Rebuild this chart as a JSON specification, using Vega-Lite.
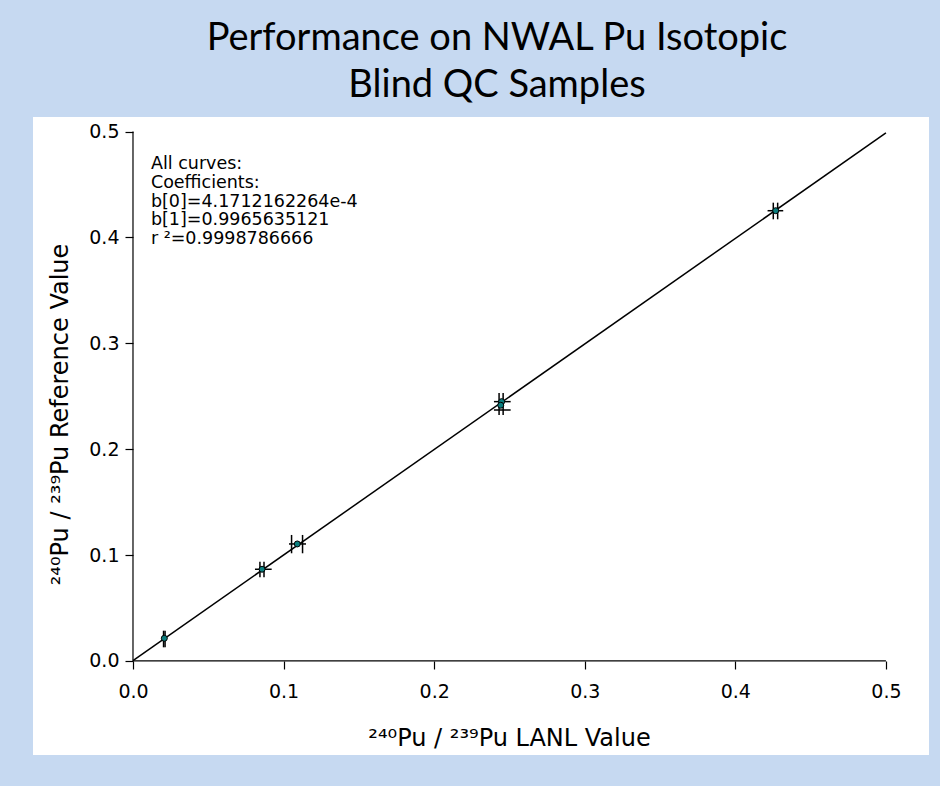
{
  "$schema": "https://vega.github.io/schema/vega-lite/v6.json",
  "autosize": {"type": "none"},
  "width": 896,
  "height": 638,
  "padding": {"left": 33, "top": 117, "right": 11, "bottom": 31},
  "background": "#c6d9f1",
  "title": {
    "text": ["Performance on NWAL Pu Isotopic", "Blind QC Samples"],
    "font": "Lato",
    "fontSize": 38,
    "fontWeight": "normal",
    "color": "black",
    "lineHeight": 47,
    "anchor": "middle",
    "frame": "group",
    "offset": 12,
    "dx": 16
  },
  "config": {
    "view": {"fill": "white", "stroke": null},
    "axis": {
      "grid": false,
      "domain": false,
      "ticks": true,
      "tickColor": "black",
      "tickWidth": 1.2,
      "tickSize": 8,
      "labelColor": "black",
      "labelFont": "DejaVu Sans",
      "labelFontSize": 19,
      "titleColor": "black",
      "titleFont": "DejaVu Sans",
      "titleFontSize": 24,
      "titleFontWeight": "normal"
    }
  },
  "datasets": {
    "markers": [
      {"lanl": 0.0208, "ref": 0.0214},
      {"lanl": 0.0857, "ref": 0.0866},
      {"lanl": 0.1091, "ref": 0.1105},
      {"lanl": 0.2448, "ref": 0.2449},
      {"lanl": 0.2442, "ref": 0.2415},
      {"lanl": 0.4268, "ref": 0.4252}
    ],
    "refErrors": [
      {"lanl": 0.0203, "lo": 0.0129, "hi": 0.0286},
      {"lanl": 0.0213, "lo": 0.0129, "hi": 0.0286},
      {"lanl": 0.0843, "lo": 0.0790, "hi": 0.0938},
      {"lanl": 0.0870, "lo": 0.0790, "hi": 0.0938},
      {"lanl": 0.1053, "lo": 0.1017, "hi": 0.1190},
      {"lanl": 0.1126, "lo": 0.1017, "hi": 0.1190},
      {"lanl": 0.2431, "lo": 0.2323, "hi": 0.2531},
      {"lanl": 0.2458, "lo": 0.2323, "hi": 0.2531},
      {"lanl": 0.4252, "lo": 0.4171, "hi": 0.4328},
      {"lanl": 0.4281, "lo": 0.4171, "hi": 0.4328}
    ],
    "lanlErrors": [
      {"ref": 0.0866, "lo": 0.0810, "hi": 0.0921},
      {"ref": 0.1105, "lo": 0.1036, "hi": 0.1149},
      {"ref": 0.2449, "lo": 0.2397, "hi": 0.2508},
      {"ref": 0.2370, "lo": 0.2397, "hi": 0.2508},
      {"ref": 0.4252, "lo": 0.4214, "hi": 0.4318}
    ]
  },
  "layer": [
    {
      "data": {"values": [{}]},
      "mark": {"type": "rule", "color": "black", "strokeWidth": 1.2},
      "encoding": {
        "x": {"datum": 0, "type": "quantitative", "scale": {"domain": [-0.0664, 0.5286], "nice": false, "zero": false},
          "axis": {"orient": "bottom", "offset": -94, "values": [0, 0.1, 0.2, 0.3, 0.4, 0.5], "format": ".1f", "labelPadding": 13, "title": "²⁴⁰Pu / ²³⁹Pu LANL Value", "titlePadding": 25, "titleX": 476}},
        "x2": {"datum": 0.5},
        "y": {"datum": 0, "type": "quantitative", "scale": {"domain": [-0.0888, 0.5137], "nice": false, "zero": false},
          "axis": {"orient": "left", "offset": -100, "values": [0, 0.1, 0.2, 0.3, 0.4, 0.5], "format": ".1f", "labelPadding": 6, "title": "²⁴⁰Pu / ²³⁹Pu Reference Value", "titlePadding": 16, "titleY": 297}}
      }
    },
    {
      "data": {"values": [{}]},
      "mark": {"type": "rule", "color": "black", "strokeWidth": 1.2},
      "encoding": {
        "x": {"datum": 0, "type": "quantitative", "scale": {"domain": [-0.0664, 0.5286], "nice": false, "zero": false},
          "axis": {"orient": "bottom", "offset": -94, "values": [0, 0.1, 0.2, 0.3, 0.4, 0.5], "format": ".1f", "labelPadding": 13, "title": "²⁴⁰Pu / ²³⁹Pu LANL Value", "titlePadding": 25, "titleX": 476}},
        "y": {"datum": 0, "type": "quantitative", "scale": {"domain": [-0.0888, 0.5137], "nice": false, "zero": false},
          "axis": {"orient": "left", "offset": -100, "values": [0, 0.1, 0.2, 0.3, 0.4, 0.5], "format": ".1f", "labelPadding": 6, "title": "²⁴⁰Pu / ²³⁹Pu Reference Value", "titlePadding": 16, "titleY": 297}},
        "y2": {"datum": 0.5}
      }
    },
    {
      "data": {"values": [{}]},
      "mark": {"type": "rule", "color": "black", "strokeWidth": 1.5},
      "encoding": {
        "x": {"datum": 0, "type": "quantitative", "scale": {"domain": [-0.0664, 0.5286], "nice": false, "zero": false},
          "axis": {"orient": "bottom", "offset": -94, "values": [0, 0.1, 0.2, 0.3, 0.4, 0.5], "format": ".1f", "labelPadding": 13, "title": "²⁴⁰Pu / ²³⁹Pu LANL Value", "titlePadding": 25, "titleX": 476}},
        "x2": {"datum": 0.5},
        "y": {"datum": 0.00041712162264, "type": "quantitative", "scale": {"domain": [-0.0888, 0.5137], "nice": false, "zero": false},
          "axis": {"orient": "left", "offset": -100, "values": [0, 0.1, 0.2, 0.3, 0.4, 0.5], "format": ".1f", "labelPadding": 6, "title": "²⁴⁰Pu / ²³⁹Pu Reference Value", "titlePadding": 16, "titleY": 297}},
        "y2": {"datum": 0.49869887767264}
      }
    },
    {
      "data": {"name": "refErrors"},
      "mark": {"type": "rule", "color": "black", "strokeWidth": 1.5},
      "encoding": {
        "x": {"field": "lanl", "type": "quantitative", "scale": {"domain": [-0.0664, 0.5286], "nice": false, "zero": false},
          "axis": {"orient": "bottom", "offset": -94, "values": [0, 0.1, 0.2, 0.3, 0.4, 0.5], "format": ".1f", "labelPadding": 13, "title": "²⁴⁰Pu / ²³⁹Pu LANL Value", "titlePadding": 25, "titleX": 476}},
        "y": {"field": "lo", "type": "quantitative", "scale": {"domain": [-0.0888, 0.5137], "nice": false, "zero": false},
          "axis": {"orient": "left", "offset": -100, "values": [0, 0.1, 0.2, 0.3, 0.4, 0.5], "format": ".1f", "labelPadding": 6, "title": "²⁴⁰Pu / ²³⁹Pu Reference Value", "titlePadding": 16, "titleY": 297}},
        "y2": {"field": "hi"}
      }
    },
    {
      "data": {"name": "lanlErrors"},
      "mark": {"type": "rule", "color": "black", "strokeWidth": 1.5},
      "encoding": {
        "x": {"field": "lo", "type": "quantitative", "scale": {"domain": [-0.0664, 0.5286], "nice": false, "zero": false},
          "axis": {"orient": "bottom", "offset": -94, "values": [0, 0.1, 0.2, 0.3, 0.4, 0.5], "format": ".1f", "labelPadding": 13, "title": "²⁴⁰Pu / ²³⁹Pu LANL Value", "titlePadding": 25, "titleX": 476}},
        "x2": {"field": "hi"},
        "y": {"field": "ref", "type": "quantitative", "scale": {"domain": [-0.0888, 0.5137], "nice": false, "zero": false},
          "axis": {"orient": "left", "offset": -100, "values": [0, 0.1, 0.2, 0.3, 0.4, 0.5], "format": ".1f", "labelPadding": 6, "title": "²⁴⁰Pu / ²³⁹Pu Reference Value", "titlePadding": 16, "titleY": 297}}
      }
    },
    {
      "data": {"name": "markers"},
      "mark": {"type": "point", "shape": "circle", "filled": true, "fill": "#0b7d7d", "stroke": "black", "strokeWidth": 1, "opacity": 1, "size": 36},
      "encoding": {
        "x": {"field": "lanl", "type": "quantitative", "scale": {"domain": [-0.0664, 0.5286], "nice": false, "zero": false},
          "axis": {"orient": "bottom", "offset": -94, "values": [0, 0.1, 0.2, 0.3, 0.4, 0.5], "format": ".1f", "labelPadding": 13, "title": "²⁴⁰Pu / ²³⁹Pu LANL Value", "titlePadding": 25, "titleX": 476}},
        "y": {"field": "ref", "type": "quantitative", "scale": {"domain": [-0.0888, 0.5137], "nice": false, "zero": false},
          "axis": {"orient": "left", "offset": -100, "values": [0, 0.1, 0.2, 0.3, 0.4, 0.5], "format": ".1f", "labelPadding": 6, "title": "²⁴⁰Pu / ²³⁹Pu Reference Value", "titlePadding": 16, "titleY": 297}}
      }
    },
    {
      "data": {"values": [{}]},
      "mark": {
        "type": "text",
        "align": "left",
        "baseline": "alphabetic",
        "font": "DejaVu Sans",
        "fontSize": 17.5,
        "lineHeight": 18.8,
        "color": "black",
        "text": ["All curves:", "Coefficients:", "b[0]=4.1712162264e-4", "b[1]=0.9965635121", "r ²=0.9998786666"]
      },
      "encoding": {
        "x": {"datum": 0.0119, "type": "quantitative", "scale": {"domain": [-0.0664, 0.5286], "nice": false, "zero": false},
          "axis": {"orient": "bottom", "offset": -94, "values": [0, 0.1, 0.2, 0.3, 0.4, 0.5], "format": ".1f", "labelPadding": 13, "title": "²⁴⁰Pu / ²³⁹Pu LANL Value", "titlePadding": 25, "titleX": 476}},
        "y": {"datum": 0.4645, "type": "quantitative", "scale": {"domain": [-0.0888, 0.5137], "nice": false, "zero": false},
          "axis": {"orient": "left", "offset": -100, "values": [0, 0.1, 0.2, 0.3, 0.4, 0.5], "format": ".1f", "labelPadding": 6, "title": "²⁴⁰Pu / ²³⁹Pu Reference Value", "titlePadding": 16, "titleY": 297}}
      }
    }
  ]
}
